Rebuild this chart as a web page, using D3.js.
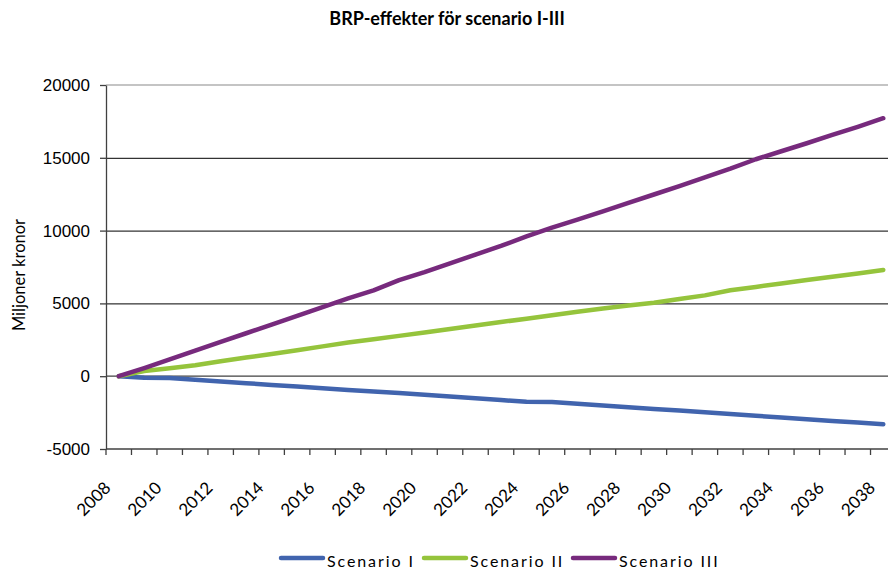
<!DOCTYPE html>
<html>
<head>
<meta charset="utf-8">
<script src="https://cdn.jsdelivr.net/npm/d3@7"></script>
<style>
    body { margin: 0; background: #fff; }
    svg { display: block; font-family: Lato, 'Open Sans', sans-serif; }
    .grid line { stroke: #000; stroke-width: 1; }
    .grid path { display: none; }
    .axis path, .axis line { stroke: #404040; stroke-width: 1.3; }
    .axis text { fill: #000; font-size: 17px; }
</style>
</head>
<body>
<svg id="chart" width="888" height="569"></svg>
<script>
'use strict';

// Data (miljoner kronor)
const years = d3.range(2008, 2039);
const scenarioI = [0, -100, -120, -250, -370, -480, -600, -710, -830, -940,
    -1050, -1160, -1280, -1400, -1520, -1640, -1760, -1770, -1890, -2010,
    -2130, -2250, -2360, -2480, -2600, -2720, -2830, -2950, -3070, -3180, -3300];
const scenarioII = [0, 350, 550, 750, 1030, 1280, 1530, 1780, 2050, 2310,
    2540, 2770, 3000, 3240, 3480, 3720, 3950, 4190, 4420, 4650,
    4850, 5050, 5300, 5550, 5900, 6130, 6370, 6600, 6830, 7060, 7300];
const scenarioIII = [0, 560, 1150, 1750, 2350, 2950, 3550, 4150, 4750, 5350,
    5900, 6600, 7150, 7750, 8350, 8950, 9600, 10200, 10750, 11320,
    11900, 12480, 13060, 13650, 14250, 14900, 15450, 16000, 16580, 17130, 17720];
const seriesNames = ['Scenario I', 'Scenario II', 'Scenario III'];
const seriesColors = ['#4164ae', '#95c43c', '#772a7d'];
const yTicks = [-5000, 0, 5000, 10000, 15000, 20000];
const xLabelYears = years.filter(y => y % 2 === 0);

const svg = d3.select('#chart');
const plot = { left: 106, right: 896, top: 85, bottom: 449 };

const x = d3.scaleBand().domain(years).range([plot.left, plot.right]);
const y = d3.scaleLinear().domain([-5000, 20000]).range([plot.bottom, plot.top]);
const cx = yr => x(yr) + x.bandwidth() / 2;

// title
svg.append('text')
    .attr('x', 447)
    .attr('y', 25)
    .attr('text-anchor', 'middle')
    .style('font-weight', 'bold')
    .style('font-size', '18px')
    .text('BRP-effekter för scenario I-III');

// horizontal gridlines
svg.append('g')
    .attr('class', 'grid')
    .attr('transform', 'translate(' + plot.left + ',0)')
    .call(d3.axisLeft(y).tickValues([5000, 10000, 15000]).tickSize(-(plot.right - plot.left)).tickFormat(''));

// top border of plot area
svg.append('line')
    .attr('x1', plot.left).attr('x2', plot.right)
    .attr('y1', y(20000)).attr('y2', y(20000))
    .style('stroke', '#b0b0b0').style('stroke-width', 1.5);

// zero line
svg.append('line')
    .attr('x1', plot.left).attr('x2', plot.right)
    .attr('y1', y(0)).attr('y2', y(0))
    .style('stroke', '#404040').style('stroke-width', 1.3);

// y axis
svg.append('g')
    .attr('class', 'axis')
    .attr('transform', 'translate(' + plot.left + ',0)')
    .call(d3.axisLeft(y).tickValues(yTicks).tickSize(6).tickSizeOuter(0).tickPadding(10).tickFormat(d => String(d)));

// x axis: ticks at category boundaries
const xAxis = svg.append('g')
    .attr('class', 'axis')
    .attr('transform', 'translate(0,' + plot.bottom + ')');
xAxis.append('line')
    .attr('x1', plot.left).attr('x2', plot.right);
xAxis.selectAll('line.tick')
    .data(years)
    .enter()
    .append('line')
    .attr('class', 'tick')
    .attr('x1', d => x(d)).attr('x2', d => x(d))
    .attr('y1', 0).attr('y2', 6);
xAxis.selectAll('text')
    .data(xLabelYears)
    .enter()
    .append('text')
    .attr('transform', d => 'translate(' + (cx(d) - 7) + ',40) rotate(-45)')
    .attr('text-anchor', 'end')
    .text(d => d);

// y axis title
svg.append('text')
    .attr('transform', 'translate(25,275) rotate(-90)')
    .attr('text-anchor', 'middle')
    .style('font-size', '16.5px')
    .text('Miljoner kronor');

// lines
const series = [scenarioI, scenarioII, scenarioIII];
const line = d3.line()
    .x((d, i) => cx(years[i]))
    .y(d => y(d));

svg.append('g')
    .selectAll('path')
    .data(series)
    .enter()
    .append('path')
    .attr('d', line)
    .style('fill', 'none')
    .style('stroke', (d, i) => seriesColors[i])
    .style('stroke-width', 4.5)
    .style('stroke-linecap', 'round')
    .style('stroke-linejoin', 'round');

// legend
const legendX = [281, 424, 573];
const legend = svg.append('g').selectAll('g')
    .data(seriesNames)
    .enter()
    .append('g')
    .attr('transform', (d, i) => 'translate(' + legendX[i] + ',558)');
legend.append('line')
    .attr('x1', 0).attr('x2', 42)
    .style('stroke', (d, i) => seriesColors[i])
    .style('stroke-width', 4.5)
    .style('stroke-linecap', 'round');
legend.append('text')
    .attr('x', 46)
    .attr('y', 9)
    .style('font-size', '16px')
    .style('letter-spacing', '1.9px')
    .text(d => d);
</script>
</body>
</html>
